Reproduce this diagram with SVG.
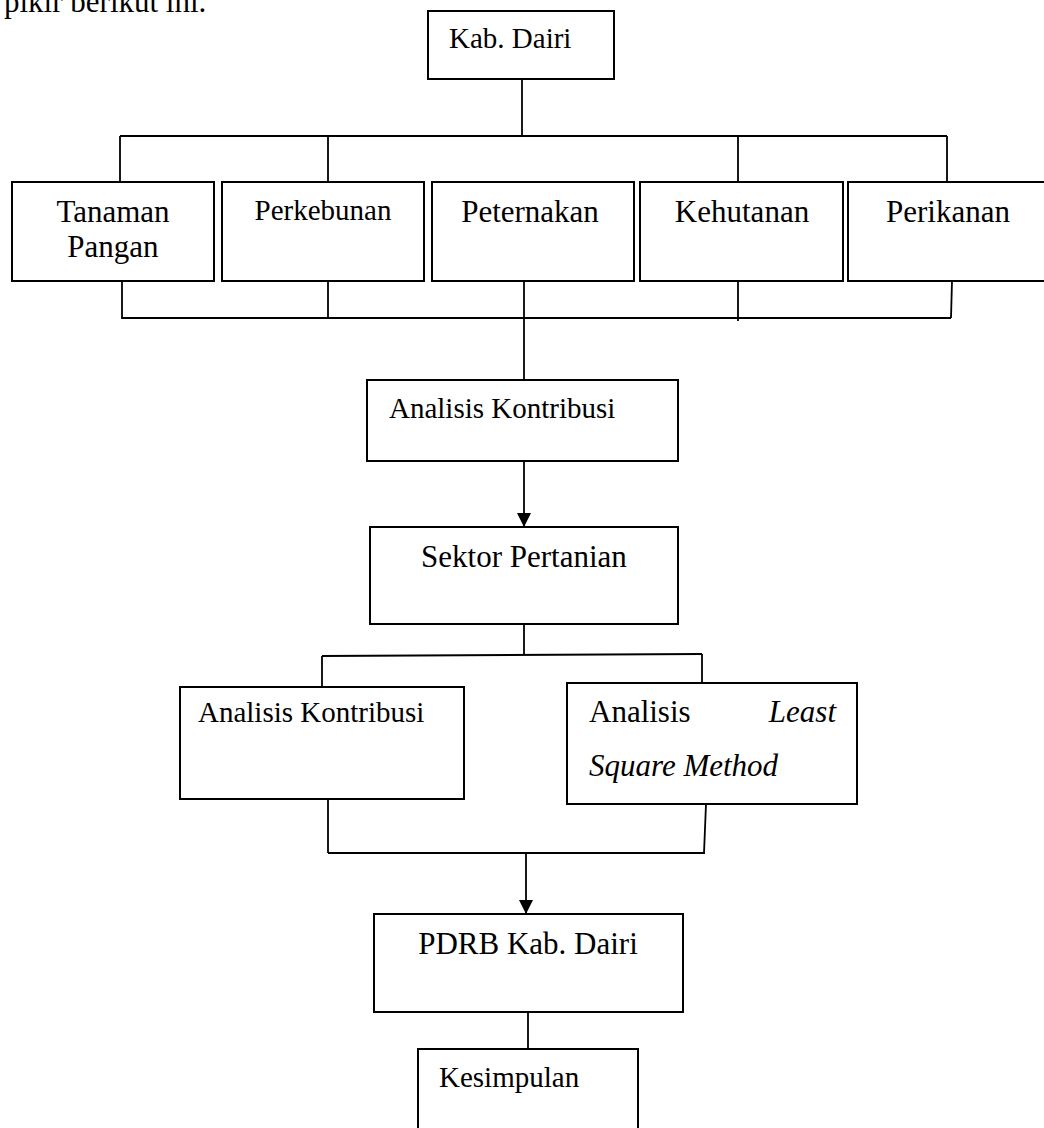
<svg xmlns="http://www.w3.org/2000/svg" width="1044" height="1128" viewBox="0 0 1044 1128">
<style>
  .box { fill: #fff; stroke: #000; stroke-width: 2; }
  .t { font-family: "Liberation Serif", "Times New Roman", serif; fill: #000; }
  .c { fill: none; stroke: #000; stroke-width: 1.8; }
</style>
<defs>
  <marker id="arr" markerUnits="userSpaceOnUse" markerWidth="14" markerHeight="16" refX="14" refY="7" orient="auto">
    <path d="M0,0 L14,7 L0,14 Z" fill="#000"/>
  </marker>
</defs>
<rect width="1044" height="1128" fill="#fff"/>
<text class="t" x="4" y="12" font-size="31">pikir berikut ini.</text>

<g id="connectors">
  <path class="c" d="M522,79 V136"/>
  <path class="c" d="M120,136 H947"/>
  <path class="c" d="M120,136 V182 M328,136 V182 M738,136 V184 M947,136 V182"/>
  <path class="c" d="M122,281 V319 M328,279 V318 M738,278 V321 M952,281 L951,318"/>
  <path class="c" d="M122,318 H951"/>
  <path class="c" d="M524,281 V380"/>
  <path class="c" d="M524,461 V527" marker-end="url(#arr)"/>
  <path class="c" d="M524,624 V655"/>
  <path class="c" d="M322,656 L702,654"/>
  <path class="c" d="M322,656 V687 M702,654 V683"/>
  <path class="c" d="M328,799 V853 M706,804 L704,853"/>
  <path class="c" d="M328,853 H705"/>
  <path class="c" d="M526,853 V914" marker-end="url(#arr)"/>
  <path class="c" d="M528,1012 V1049"/>
</g>

<g id="kab-dairi">
  <rect class="box" x="428" y="11" width="186" height="68"/>
  <text class="t" x="449" y="48" font-size="29">Kab. Dairi</text>
</g>
<g id="tanaman-pangan">
  <rect class="box" x="12" y="182" width="202" height="99"/>
  <text class="t" x="113" y="222" font-size="31" text-anchor="middle">Tanaman</text>
  <text class="t" x="113" y="257" font-size="31" text-anchor="middle">Pangan</text>
</g>
<g id="perkebunan">
  <rect class="box" x="222" y="182" width="202" height="99"/>
  <text class="t" x="323" y="220" font-size="29" text-anchor="middle">Perkebunan</text>
</g>
<g id="peternakan">
  <rect class="box" x="432" y="182" width="202" height="99"/>
  <text class="t" x="530" y="222" font-size="31" text-anchor="middle">Peternakan</text>
</g>
<g id="kehutanan">
  <rect class="box" x="640" y="182" width="203" height="99"/>
  <text class="t" x="742" y="222" font-size="31" text-anchor="middle">Kehutanan</text>
</g>
<g id="perikanan">
  <rect class="box" x="848" y="182" width="204" height="99"/>
  <text class="t" x="886" y="222" font-size="31">Perikanan</text>
</g>
<g id="analisis-kontribusi-1">
  <rect class="box" x="367" y="380" width="311" height="81"/>
  <text class="t" x="389" y="418" font-size="29">Analisis Kontribusi</text>
</g>
<g id="sektor-pertanian">
  <rect class="box" x="370" y="527" width="308" height="97"/>
  <text class="t" x="524" y="567" font-size="31" text-anchor="middle">Sektor Pertanian</text>
</g>
<g id="analisis-kontribusi-2">
  <rect class="box" x="180" y="687" width="284" height="112"/>
  <text class="t" x="198" y="722" font-size="29">Analisis Kontribusi</text>
</g>
<g id="analisis-lsm">
  <rect class="box" x="567" y="683" width="290" height="121"/>
  <text class="t" x="589" y="722" font-size="31">Analisis</text>
  <text class="t" x="836" y="722" font-size="31" font-style="italic" text-anchor="end">Least</text>
  <text class="t" x="589" y="776" font-size="31" font-style="italic">Square Method</text>
</g>
<g id="pdrb">
  <rect class="box" x="374" y="914" width="309" height="98"/>
  <text class="t" x="528" y="954" font-size="31" text-anchor="middle">PDRB Kab. Dairi</text>
</g>
<g id="kesimpulan">
  <rect class="box" x="418" y="1049" width="220" height="90"/>
  <text class="t" x="439" y="1087" font-size="29">Kesimpulan</text>
</g>
</svg>
